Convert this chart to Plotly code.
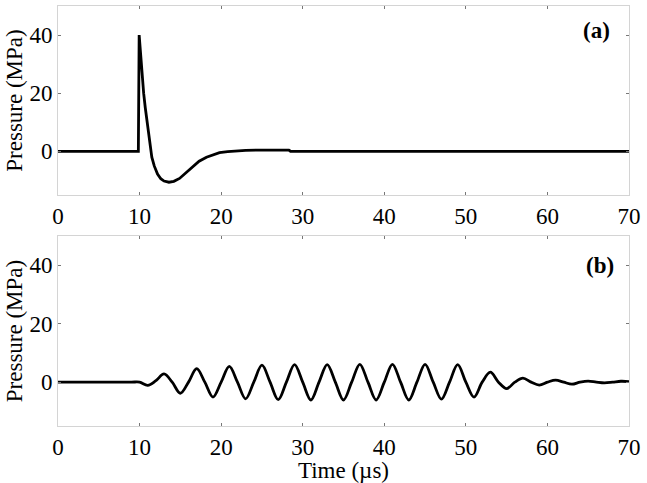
import plotly.graph_objects as go
from plotly.subplots import make_subplots

# (a) single pulse
t_a = [0, 9.85, 9.95, 10.1, 10.2, 10.35, 10.5, 10.7, 10.9, 11.1, 11.3, 11.5, 11.8,
       12.2, 12.6, 13.0, 13.6, 14.2, 14.9, 15.7, 16.5, 17.3, 18.2, 19.0, 19.8,
       20.8, 21.8, 23.0, 25.0, 28.3, 28.5, 70]
p_a = [0, 0, 40.0, 34.0, 29.5, 24.5, 20.0, 15.0, 10.5, 5.5, 1.0, -2.0, -5.0,
       -7.8, -9.4, -10.2, -10.6, -10.3, -9.3, -7.4, -5.2, -3.4, -2.0, -1.1, -0.45,
       -0.1, 0.15, 0.35, 0.45, 0.45, 0.05, 0]

# (b) tone burst: extrema and crossings, 1 us apart
t_b = [0, 5, 9, 10, 11, 12, 13, 14, 15, 16, 17, 18, 19, 20, 21, 22, 23, 24, 25, 26,
       27, 28, 29, 30, 31, 32, 33, 34, 35, 36, 37, 38, 39, 40, 41, 42, 43, 44, 45,
       46, 47, 48, 49, 50, 51, 52, 53, 54, 55, 56, 57, 58, 59, 60, 61, 62, 63, 64,
       65, 66, 67, 68, 69, 70]
p_b = [0, 0, 0, 0, -1.1, 0.5, 2.8, 0, -3.8, 0, 4.6, 0, -5.1, 0, 5.4, 0, -5.7, 0,
       5.8, 0, -6.0, 0, 6.0, 0, -6.1, 0, 6.0, 0, -6.1, 0, 6.1, 0, -6.1, 0, 6.1, 0,
       -6.1, 0, 6.1, 0, -5.8, 0, 6.0, 0, -5.1, 0, 3.4, 0, -2.2, 0, 1.4, 0, -1.0, 0,
       0.7, 0, -0.7, 0, 0.35, 0, -0.25, 0, 0.3, 0.2]

x_ticks = [0, 10, 20, 30, 40, 50, 60, 70]
y_ticks = [0, 20, 40]

font = "Liberation Serif"

fig = make_subplots(rows=2, cols=1, vertical_spacing=0.0976)
fig.add_trace(go.Scatter(x=t_a, y=p_a, mode="lines",
                         line=dict(color="black", width=2.8)), row=1, col=1)
fig.add_trace(go.Scatter(x=t_b, y=p_b, mode="lines", line_shape="spline",
                         line=dict(color="black", width=2.8)), row=2, col=1)

axis_style = dict(showline=True, linecolor="#d4d4d4", linewidth=1, mirror="ticks",
                  ticks="inside", ticklen=3, tickcolor="#777", tickwidth=1,
                  showgrid=False, zeroline=False,
                  tickfont=dict(family=font, size=23, color="black"))

fig.update_xaxes(range=[0, 70], tickvals=x_ticks, **axis_style)
fig.update_yaxes(range=[-15, 50], tickvals=y_ticks, **axis_style)
fig.update_yaxes(title=dict(text="Pressure (MPa)", standoff=0,
                            font=dict(family=font, size=23, color="black")))
fig.update_xaxes(title=dict(text="Time (µs)", standoff=0,
                            font=dict(family=font, size=23, color="black")),
                 row=2, col=1)

fig.layout.yaxis.domain = [0.55, 1.0]
fig.layout.yaxis2.domain = [0.0, 0.4524]

fig.add_annotation(text="<b>(a)</b>", x=66, y=41.5, xref="x", yref="y",
                   showarrow=False, font=dict(family=font, size=23, color="black"))
fig.add_annotation(text="<b>(b)</b>", x=66.4, y=40, xref="x2", yref="y2",
                   showarrow=False, font=dict(family=font, size=23, color="black"))

fig.update_layout(width=647, height=483, showlegend=False,
                  plot_bgcolor="white", paper_bgcolor="white",
                  margin=dict(l=58, r=18, t=6, b=57))

# drop the default page margin so the figure sits at the window corner
fig.write_html("out.html", config={"displayModeBar": False},
               post_script="document.body.style.margin='0px';")
